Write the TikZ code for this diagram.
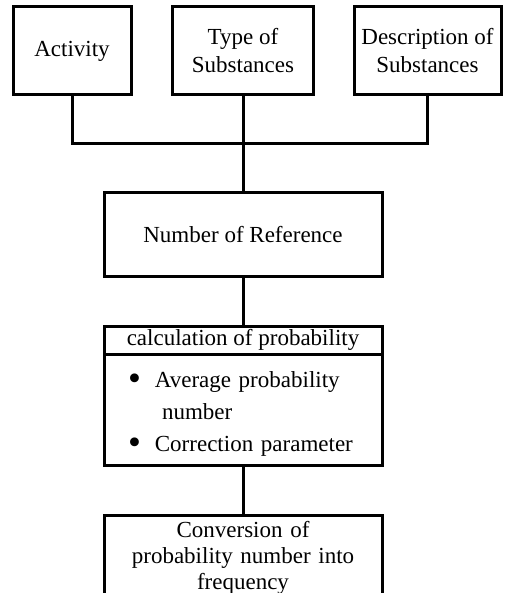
\documentclass[tikz,border=0pt]{standalone}
\usepackage{fontspec}
\setmainfont{Liberation Serif}
\usetikzlibrary{positioning}

\newcommand{\bigdot}{\raisebox{-0.3ex}{\scalebox{1.6}{\textbullet}}}

\tikzset{
    box/.style={draw, line width=1.5pt, outer sep=0pt, align=center, inner sep=2pt,
        font=\fontsize{11.5}{14}\selectfont},
    link/.style={line width=1.5pt}
}

\begin{document}
\begin{tikzpicture}[x=0.5pt, y=-0.5pt]
        \useasboundingbox (0,0) rectangle (505,593);
        \clip (0,0) rectangle (505,593);
        % top row
        \node[box, minimum width=59pt, minimum height=44pt] (act) at (72,51) {Activity};
        \node[box, minimum width=70.5pt, minimum height=44pt] (type) at (243,51) {Type of\\Substances};
        \node[box, minimum width=73.5pt, minimum height=44pt] (desc) at (427.5,51) {Description of\\Substances};
        \coordinate (bus) at (243,144);
        %
        \node[box, minimum width=139pt, minimum height=41.5pt] (ref) at (243,234.5) {Number of Reference};
        %
        \node[box, anchor=north, minimum width=139pt, minimum height=14pt, inner sep=0pt] (calchead) at (243,326) {calculation of probability};
        \node[box, anchor=north, minimum height=55.5pt, text width=115pt, inner xsep=12pt, align=left,
            font=\fontsize{11.5}{16}\selectfont] (calcbody) at (calchead.south)
            {\rule{0pt}{12pt}\bigdot\hspace{7pt}Average probability\\
             \hspace*{17pt}number\\
             \bigdot\hspace{7pt}Correction parameter};
        %
        \node[box, anchor=north, text width=135pt, inner ysep=3pt, font=\fontsize{11.5}{13}\selectfont] (conv) at (243,515)
            {Conversion of\\probability number into\\frequency};
        % connectors
        \draw[link] (act.south) |- (bus) -| (desc.south);
        \draw[link] (type.south) -- (ref.north);
        \draw[link] (ref.south) -- (calchead.north);
        \draw[link] (calcbody.south) -- (conv.north);
    \end{tikzpicture}
\end{document}
